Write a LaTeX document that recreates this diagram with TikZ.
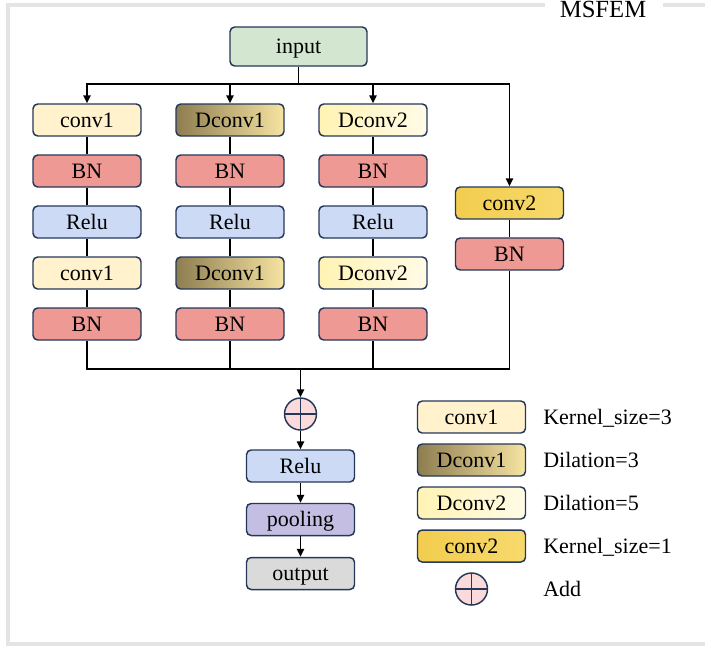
\documentclass[tikz,border=0pt]{standalone}
\usepackage{fontspec}
\setmainfont{Liberation Serif}
\usetikzlibrary{arrows.meta}

\definecolor{edge}{HTML}{26385A}
\definecolor{frame}{HTML}{E4E4E4}
\definecolor{inputc}{HTML}{D3E6D0}
\definecolor{convA}{HTML}{FFF2CC}
\definecolor{dconvAl}{HTML}{8E7D50}
\definecolor{dconvAr}{HTML}{F6E4A2}
\definecolor{dconvBl}{HTML}{FFF3B4}
\definecolor{dconvBr}{HTML}{FFFBE6}
\definecolor{convBl}{HTML}{F2CD4E}
\definecolor{convBr}{HTML}{F7D96C}
\definecolor{bnc}{HTML}{EE9994}
\definecolor{reluc}{HTML}{CCDAF6}
\definecolor{poolc}{HTML}{C4BEE2}
\definecolor{outc}{HTML}{DADADA}
\definecolor{addc}{HTML}{FBDADB}

\begin{document}
\begin{tikzpicture}[x=0.75pt,y=-0.75pt,
  blk/.style={draw=edge, line width=1.1pt, rounded corners=3.5pt,
    minimum width=81pt, minimum height=24pt, inner sep=0pt,
    text height=10.9pt, text depth=0pt, font=\fontsize{16.5}{19}\selectfont},
  conv1/.style={blk, fill=convA},
  dconv1/.style={blk, left color=dconvAl, right color=dconvAr},
  dconv2/.style={blk, left color=dconvBl, right color=dconvBr},
  conv2/.style={blk, left color=convBl, right color=convBr},
  bn/.style={blk, fill=bnc},
  relu/.style={blk, fill=reluc},
  addop/.style={circle, draw=edge, line width=1.1pt, fill=addc,
    minimum size=24pt, inner sep=0pt,
    path picture={\draw[edge, line width=1pt]
      (path picture bounding box.north) -- (path picture bounding box.south)
      (path picture bounding box.west) -- (path picture bounding box.east);}},
  note/.style={anchor=west, inner sep=0pt, text height=10.9pt, text depth=0pt,
    font=\fontsize{16.5}{19}\selectfont},
  link/.style={line width=1.1pt, black},
  flow/.style={link, -{Triangle[length=6pt,width=5.5pt]}}
]
\useasboundingbox (0,0) rectangle (705,651);

% outer frame with a gap for the title
\draw[frame, line width=3pt] (545,4.7) -- (8,4.7) -- (8,643.5) -- (705,643.5);
\draw[frame, line width=3pt] (663,4.7) -- (705,4.7);
\node[inner sep=0pt, text height=12.2pt, text depth=0pt,
  font=\fontsize{18.5}{22}\selectfont] (title) at (603,9.5) {MSFEM};

% input
\node[blk, fill=inputc, minimum width=102.75pt, minimum height=29.25pt] (in) at (298.5,46.5) {input};

% branch 1
\node[conv1] (a1) at (87,120) {conv1};
\node[bn]    (a2) at (87,171) {BN};
\node[relu]  (a3) at (87,222) {Relu};
\node[conv1] (a4) at (87,273) {conv1};
\node[bn]    (a5) at (87,324) {BN};

% branch 2
\node[dconv1] (b1) at (230,120) {Dconv1};
\node[bn]     (b2) at (230,171) {BN};
\node[relu]   (b3) at (230,222) {Relu};
\node[dconv1] (b4) at (230,273) {Dconv1};
\node[bn]     (b5) at (230,324) {BN};

% branch 3
\node[dconv2] (c1) at (373,120) {Dconv2};
\node[bn]     (c2) at (373,171) {BN};
\node[relu]   (c3) at (373,222) {Relu};
\node[dconv2] (c4) at (373,273) {Dconv2};
\node[bn]     (c5) at (373,324) {BN};

% branch 4
\node[conv2] (d1) at (509.5,203) {conv2};
\node[bn]    (d2) at (509.5,254) {BN};

% merge and head
\node[addop] (add) at (300.5,414) {};
\node[relu] (r)  at (300.5,466) {Relu};
\node[blk, fill=poolc] (p) at (300.5,519.5) {pooling};
\node[blk, fill=outc]  (o) at (300.5,573.5) {output};

\coordinate (split) at (298.5,84);
\coordinate (join) at (300.5,369);

% input fan-out
\draw[link] (in.south) -- (split);
\draw[flow] (split) -| (a1.north);
\draw[flow] (split) -| (b1.north);
\draw[flow] (split) -| (c1.north);
\draw[flow] (split) -| (d1.north);

% in-branch links
\foreach \k in {a,b,c}{
  \draw[link] (\k1) -- (\k2);
  \draw[link] (\k2) -- (\k3);
  \draw[link] (\k3) -- (\k4);
  \draw[link] (\k4) -- (\k5);
}
\draw[link] (d1) -- (d2);

% fan-in
\draw[link] (a5.south) |- (join);
\draw[link] (b5.south) |- (join);
\draw[link] (c5.south) |- (join);
\draw[link] (d2.south) |- (join);
\draw[flow] (join) -- (add.north);
\draw[flow] (add.south) -- (r.north);
\draw[flow] (r) -- (p);
\draw[flow] (p) -- (o);

% legend
\node[conv1]  (l1) at (471.5,417) {conv1};
\node[dconv1] (l2) at (471.5,460) {Dconv1};
\node[dconv2] (l3) at (471.5,503) {Dconv2};
\node[conv2]  (l4) at (471.5,546) {conv2};
\node[addop]  (l5) at (471.5,589) {};
\node[note] (t1) at (543,417) {Kernel\_size=3};
\node[note] (t2) at (543,460) {Dilation=3};
\node[note] (t3) at (543,503) {Dilation=5};
\node[note] (t4) at (543,546) {Kernel\_size=1};
\node[note] (t5) at (543,589) {Add};
\end{tikzpicture}
\end{document}
